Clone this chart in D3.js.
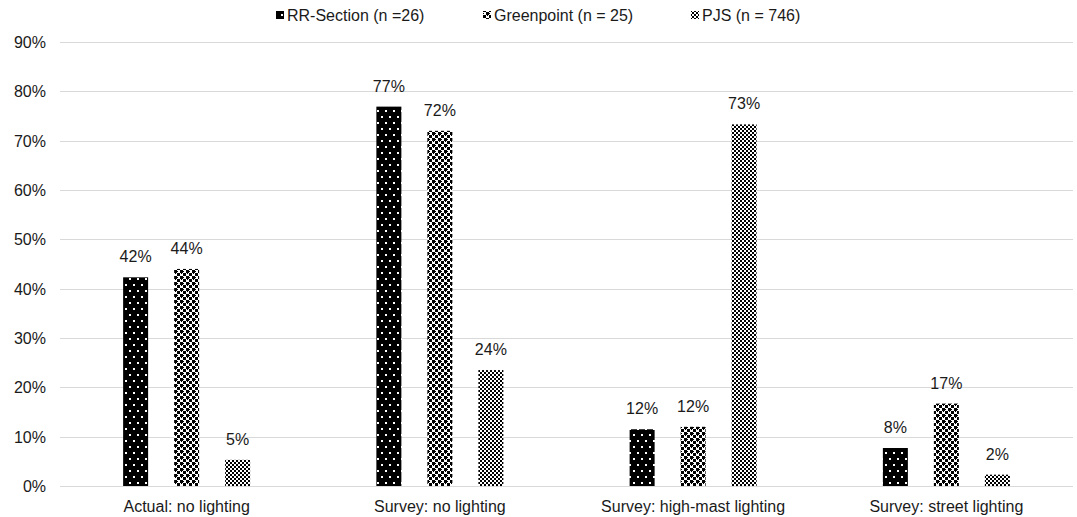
<!DOCTYPE html>
<meta charset="utf-8">
<style>
body { margin: 0; background: #fff; }
text { font-family: "Liberation Sans", Arial, sans-serif; fill: #1a1a1a; }
.grid line { stroke: #d9d9d9; stroke-width: 1; }
</style>
<svg width="1077" height="517"></svg>
<script src="https://d3js.org/d3.v7.min.js"></script>
<script>

// data
var categories = ["Actual: no lighting", "Survey: no lighting", "Survey: high-mast lighting", "Survey: street lighting"];
var series = ["RR-Section (n =26)", "Greenpoint (n = 25)", "PJS (n = 746)"];
var rrSection = [0.423, 0.769, 0.115, 0.077];
var greenpoint = [0.44, 0.72, 0.12, 0.167];
var pjs = [0.053, 0.235, 0.733, 0.023];
var yTicks = [0, 0.1, 0.2, 0.3, 0.4, 0.5, 0.6, 0.7, 0.8, 0.9];

var values = [rrSection, greenpoint, pjs];
var patternIds = ["pDots", "pCross", "pChecker"];
var fontSize = 16;

var svg = d3.select("svg");

// patterns (approximating the excel fills)
var defs = svg.append("defs");

var p1 = defs.append("pattern").attr("id", "pDots")
    .attr("patternUnits", "userSpaceOnUse").attr("width", 8).attr("height", 12);
p1.append("rect").attr("width", 8).attr("height", 12).attr("fill", "#000");
p1.append("rect").attr("x", 1).attr("y", 2).attr("width", 2).attr("height", 2).attr("fill", "#fff");
p1.append("rect").attr("x", 5).attr("y", 8).attr("width", 2).attr("height", 2).attr("fill", "#fff");

var p2 = defs.append("pattern").attr("id", "pCross")
    .attr("patternUnits", "userSpaceOnUse").attr("width", 6).attr("height", 6);
p2.append("rect").attr("width", 6).attr("height", 6).attr("fill", "#fff");
p2.append("rect").attr("x", 0).attr("y", 0).attr("width", 3).attr("height", 3).attr("fill", "#000");
p2.append("rect").attr("x", 3).attr("y", 3).attr("width", 3).attr("height", 3).attr("fill", "#000");
p2.append("rect").attr("x", 3).attr("y", 1).attr("width", 1).attr("height", 1).attr("fill", "#000");
p2.append("rect").attr("x", 1).attr("y", 3).attr("width", 1).attr("height", 1).attr("fill", "#000");

var p3 = defs.append("pattern").attr("id", "pChecker")
    .attr("patternUnits", "userSpaceOnUse").attr("width", 4).attr("height", 4);
p3.append("rect").attr("width", 4).attr("height", 4).attr("fill", "#fff");
p3.append("rect").attr("x", 0).attr("y", 0).attr("width", 2).attr("height", 2).attr("fill", "#000");
p3.append("rect").attr("x", 2).attr("y", 2).attr("width", 2).attr("height", 2).attr("fill", "#000");

var x = d3.scaleBand().domain(categories).range([60, 1073]).padding(0);
var xs = d3.scaleBand().domain(series).range([-63.5, 63.5]).paddingInner(0.51).paddingOuter(0);
var y = d3.scaleLinear().domain([0, 0.9]).range([486, 42]);

// gridlines
svg.append("g").attr("class", "grid")
  .selectAll("line").data(yTicks).enter().append("line")
    .attr("x1", 60).attr("x2", 1073)
    .attr("y1", d => Math.round(y(d)) + 0.5).attr("y2", d => Math.round(y(d)) + 0.5);

// y axis labels
svg.append("g").selectAll("text").data(yTicks).enter().append("text")
    .attr("x", 46).attr("y", d => y(d) + 6)
    .attr("text-anchor", "end").attr("font-size", fontSize)
    .text(d => d3.format(".0%")(d));

// bars
series.forEach(function(s, i) {
  var g = svg.append("g");
  g.selectAll("rect").data(values[i]).enter().append("rect")
      .attr("x", (d, j) => x(categories[j]) + x.bandwidth() / 2 + xs(s))
      .attr("width", xs.bandwidth())
      .attr("y", d => y(d))
      .attr("height", d => y(0) - y(d))
      .attr("fill", "url(#" + patternIds[i] + ")");
  g.selectAll("text").data(values[i]).enter().append("text")
      .attr("x", (d, j) => x(categories[j]) + x.bandwidth() / 2 + xs(s) + xs.bandwidth() / 2)
      .attr("y", d => y(d) - 15)
      .attr("text-anchor", "middle").attr("font-size", fontSize)
      .text(d => d3.format(".0%")(d));
});

// category labels
svg.append("g").selectAll("text").data(categories).enter().append("text")
    .attr("x", d => x(d) + x.bandwidth() / 2).attr("y", 512)
    .attr("text-anchor", "middle").attr("font-size", fontSize)
    .text(d => d);

// legend
var legendX = [276, 483, 691];
var legend = svg.append("g");
series.forEach(function(s, i) {
  legend.append("rect").attr("x", legendX[i]).attr("y", 11).attr("width", 8).attr("height", 8)
      .attr("fill", "url(#" + patternIds[i] + ")");
  legend.append("text").attr("x", legendX[i] + 11).attr("y", 21).attr("font-size", fontSize).text(s);
});

</script>
